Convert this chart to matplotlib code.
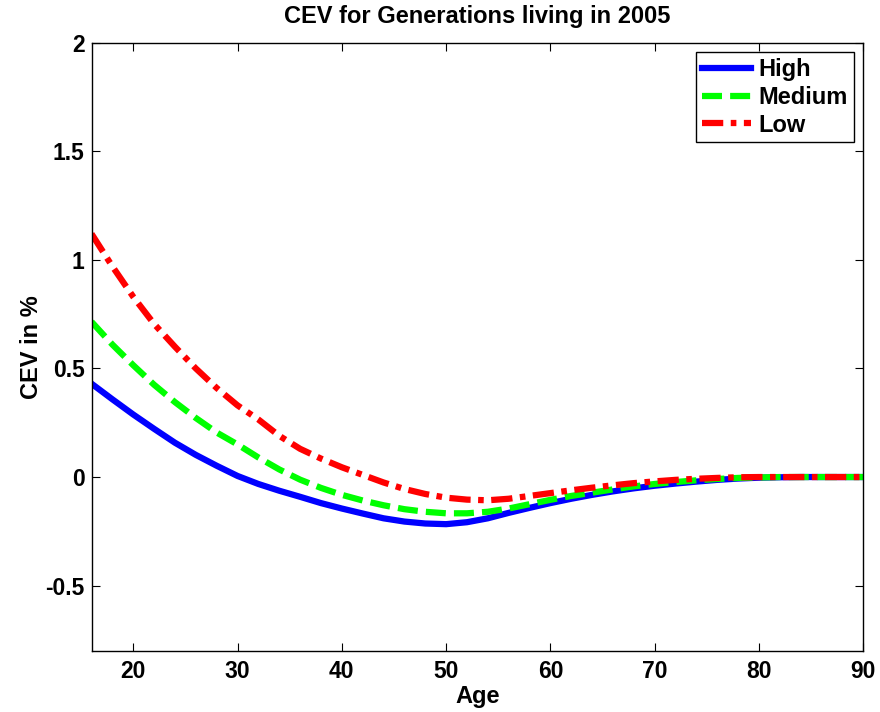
import matplotlib
matplotlib.use("Agg")
import matplotlib.pyplot as plt

# -----------------------------
# DATA
# -----------------------------
age = [16, 18, 20, 22, 24, 26, 28, 30, 32, 34, 36, 38, 40, 42, 44, 46, 48, 50,
       52, 54, 56, 58, 60, 62, 64, 66, 68, 70, 72, 74, 76, 78, 80, 82, 84, 86, 88, 90]

cev_high = [0.43, 0.358, 0.288, 0.222, 0.158, 0.102, 0.052, 0.005, -0.032, -0.063,
            -0.091, -0.12, -0.145, -0.168, -0.19, -0.205, -0.214, -0.217, -0.208,
            -0.19, -0.165, -0.142, -0.12, -0.1, -0.082, -0.066, -0.052, -0.04,
            -0.03, -0.021, -0.013, -0.007, -0.003, -0.001, 0, 0, 0, 0]

cev_medium = [0.715, 0.61, 0.515, 0.425, 0.345, 0.272, 0.205, 0.15, 0.09, 0.035,
              -0.012, -0.05, -0.082, -0.108, -0.13, -0.148, -0.16, -0.167, -0.167,
              -0.16, -0.145, -0.125, -0.105, -0.087, -0.072, -0.057, -0.043, -0.032,
              -0.023, -0.015, -0.009, -0.004, -0.002, 0, 0, 0, 0, 0]

cev_low = [1.12, 0.97, 0.83, 0.705, 0.6, 0.5, 0.41, 0.33, 0.265, 0.19, 0.13, 0.085,
           0.045, 0.01, -0.025, -0.055, -0.078, -0.095, -0.104, -0.107, -0.1, -0.087,
           -0.074, -0.061, -0.049, -0.038, -0.028, -0.02, -0.013, -0.008, -0.004,
           -0.001, 0, 0, 0, 0, 0, 0]

x_ticks = [20, 30, 40, 50, 60, 70, 80, 90]
y_ticks = [-0.5, 0, 0.5, 1, 1.5, 2]
y_tick_labels = ["-0.5", "0", "0.5", "1", "1.5", "2"]

# -----------------------------
# PLOT
# -----------------------------
plt.rcParams["font.family"] = ["Liberation Sans", "DejaVu Sans"]
plt.rcParams["font.weight"] = "bold"

fig = plt.figure(figsize=(8.8, 7.12), dpi=100)
ax = fig.add_axes([0.104, 0.086, 0.877, 0.854])

ax.plot(age, cev_high, color="#0000ff", lw=4.5, label="High")
ax.plot(age, cev_medium, color="#00ff00", lw=4.5, dashes=(3.2, 1.3), label="Medium")
ax.plot(age, cev_low, color="#ff0000", lw=4.5, dashes=(3.4, 1.2, 0.9, 1.2), label="Low")

ax.set_xlim(16, 90)
ax.set_ylim(-0.8, 2)
ax.set_xticks(x_ticks)
ax.set_yticks(y_ticks)
ax.set_yticklabels(y_tick_labels)
ax.tick_params(direction="in", length=6, width=0.8, top=True, right=True,
               labelsize=16.5)
ax.tick_params(axis="y", pad=5)
ax.tick_params(axis="x", pad=7)
for s in ax.spines.values():
    s.set_linewidth(1.0)

ax.set_title("CEV for Generations living in 2005", fontsize=17, fontweight="bold", pad=14)
ax.set_xlabel("Age", fontsize=17, fontweight="bold", labelpad=1)
ax.set_ylabel("CEV in %", fontsize=17, fontweight="bold", labelpad=2)

leg = ax.legend(loc="upper right", fontsize=17, handlelength=2.1, handletextpad=0.3,
                borderpad=0.25, labelspacing=0.2, fancybox=False, framealpha=1,
                borderaxespad=0.4)
leg.get_frame().set_edgecolor("black")
leg.get_frame().set_linewidth(1.0)

plt.savefig("out.png", dpi=100)
plt.close()
